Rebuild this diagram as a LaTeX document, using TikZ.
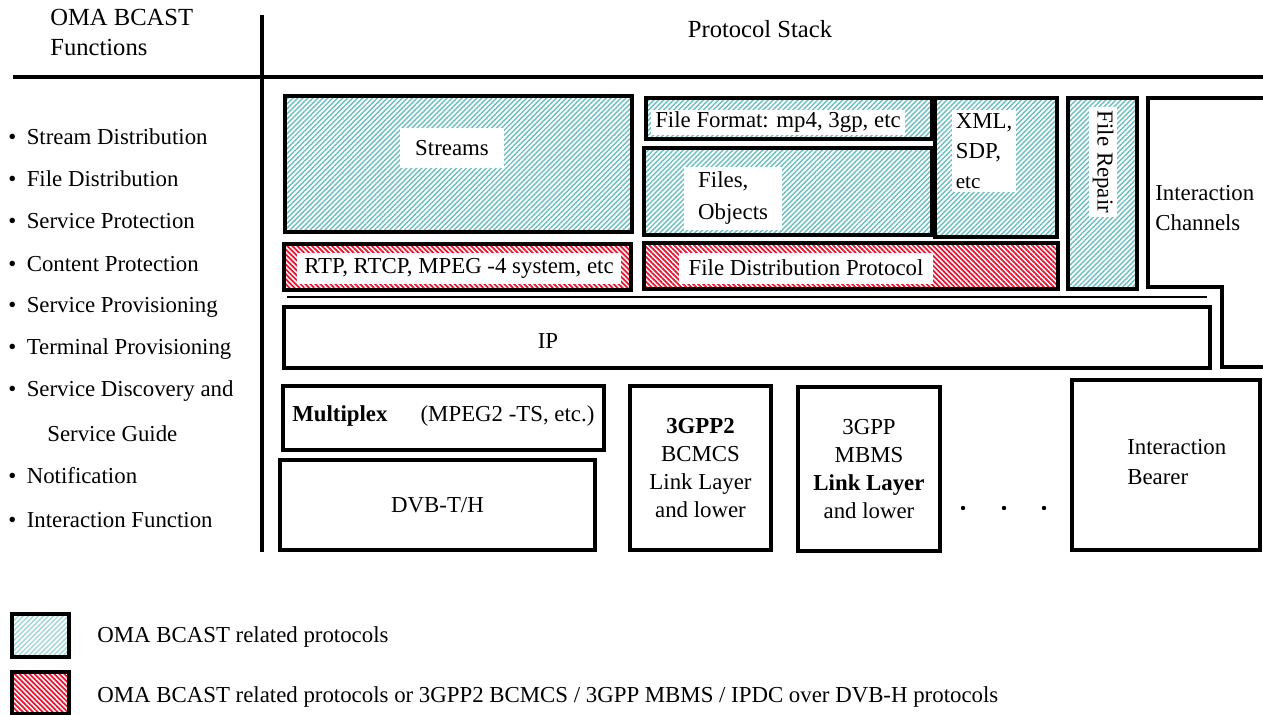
\documentclass[tikz,border=0pt]{standalone}
\usepackage{fontspec}
\setmainfont{Liberation Serif}
\usetikzlibrary{patterns.meta}
\definecolor{omacyan}{RGB}{105,192,192}
\definecolor{omapale}{RGB}{160,215,215}
\definecolor{mixred}{RGB}{232,20,50}
\begin{document}
\begin{tikzpicture}[x=0.02cm, y=-0.02cm, font=\fontsize{13}{15}\selectfont,
	layer/.style={draw, line width=2.6pt, inner sep=0pt, outer sep=0pt},
	oma/.style={layer, pattern={Lines[angle=45,distance=2pt,line width=.8pt]}, pattern color=omacyan},
	mix/.style={layer, pattern={Lines[angle=-45,distance=2pt,line width=1pt]}, pattern color=mixred},
	tag/.style={fill=white, inner sep=0pt},
	func/.style={anchor=west, inner sep=0pt}]
		\path[use as bounding box, fill=white] (0,0) rectangle (1263,714);
		% table frame
		\draw[line width=2.8pt] (262,15) -- (262,552);
		\draw[line width=2.8pt] (13,77) -- (1263,77);
		\node [anchor=north west, align=left, inner sep=0, font=\fontsize{14}{17}\selectfont] (head) at (50,9) {OMA BCAST\\Functions};
		\node [font=\fontsize{14}{17}\selectfont] (stack) at (760,29) {Protocol Stack};
		% functions
		\foreach \yy/\txt [count=\i] in {137/Stream Distribution, 179/File Distribution, 221/Service Protection,
			264/Content Protection, 307/Service Provisioning, 349/Terminal Provisioning,
			391/Service Discovery and, 476/Notification, 520/Interaction Function}
			\node [func] (fn\i) at (8,\yy) {\makebox[10.5pt][l]{\textbullet}\txt};
		\node [func] (fnsg) at (47,434) {Service Guide};
		% upper layers
		\node [oma, minimum width=6.94cm, minimum height=2.72cm] (streams) at (458.5,164) {};
		\node [tag, minimum width=2.1cm, minimum height=.8cm] (streamsT) at (452,148) {Streams};
		\node [mix, minimum width=6.94cm, minimum height=.92cm] (rtp) at (457.5,267) {};
		\node [tag, minimum width=6.5cm, minimum height=.62cm] (rtpT) at (459,268) {RTP, RTCP, MPEG -4 system, etc};
		\node [oma, minimum width=5.72cm, minimum height=.82cm] (fformat) at (789,118.5) {};
		\node [tag, minimum width=5.1cm, minimum height=.5cm] (fformatT) at (778,122) {File Format: mp4, 3gp, etc};
		\node [oma, minimum width=5.76cm, minimum height=1.74cm] (files) at (788,191.5) {};
		\node [tag, anchor=west, align=left, minimum width=1.95cm, minimum height=1.26cm, inner xsep=3pt] (filesT) at (684,198) {Files,\\[3pt]Objects};
		\node [oma, minimum width=2.44cm, minimum height=2.78cm] (xml) at (996,167.5) {};
		\node [tag, anchor=north west, align=left, inner sep=2pt] (xmlT) at (952,110) {XML,\\[2pt]SDP,\\[2pt]{\fontsize{12}{14}\selectfont etc}};
		\node [mix, minimum width=8.28cm, minimum height=.92cm] (fdp) at (851,266) {};
		\node [tag, minimum width=5.1cm, minimum height=.62cm] (fdpT) at (806,268) {File Distribution Protocol};
		\node [oma, minimum width=1.38cm, minimum height=3.82cm] (repair) at (1102.5,193.5) {};
		\node [tag, rotate=-90, inner sep=2pt] (repairT) at (1103,162) {File Repair};
		% interaction channels
		\draw[line width=2.6pt] (1270,98) -- (1148,98) -- (1148,287) -- (1222,287) -- (1222,367) -- (1270,367);
		\node [anchor=west, align=left, inner sep=0] (ichan) at (1155,208) {Interaction\\[2pt]Channels};
		\draw[line width=1.2pt] (287,297) -- (1207,297);
		% ip
		\node [layer, minimum width=18.52cm, minimum height=1.22cm] (ip) at (747,337.5) {};
		\node [inner sep=0] (ipT) at (548,341) {IP};
		% bearers
		\node [layer, minimum width=6.42cm, minimum height=1.28cm] (mux) at (443.5,418) {};
		\node [anchor=west, inner sep=0] (muxT) at (292,416) {\textbf{Multiplex}\hspace{1.45em}(MPEG2 -TS, etc.)};
		\node [layer, minimum width=6.3cm, minimum height=1.8cm] (dvb) at (437.5,505) {DVB-T/H};
		\node [layer, minimum width=2.82cm, minimum height=3.28cm, align=center] (bcmcs) at (700.5,468) {\textbf{3GPP2}\\[1pt]BCMCS\\[1pt]Link Layer\\[1pt]and lower};
		\node [layer, minimum width=2.84cm, minimum height=3.28cm, align=center] (mbms) at (869,469) {3GPP\\[1pt]MBMS\\[1pt]\textbf{Link Layer}\\[1pt]and lower};
		\foreach \xx in {963,1004,1044}
			\fill (\xx,508) circle (2.2);
		\node [layer, minimum width=3.76cm, minimum height=3.4cm] (bearer) at (1166,465) {};
		\node [anchor=west, align=left, inner sep=0] (bearerT) at (1127,462) {Interaction\\[2pt]Bearer};
		% legend
		\node [layer, minimum width=1.14cm, minimum height=.86cm, pattern={Lines[angle=45,distance=2pt,line width=.8pt]}, pattern color=omapale] (keyoma) at (40.5,635.5) {};
		\node [anchor=west, inner sep=0] (keyomaT) at (97,637) {OMA BCAST related protocols};
		\node [mix, minimum width=1.14cm, minimum height=.84cm] (keymix) at (40.5,693) {};
		\node [anchor=west, inner sep=0] (keymixT) at (97,697) {OMA BCAST related protocols or 3GPP2 BCMCS / 3GPP MBMS / IPDC over DVB-H protocols};
\end{tikzpicture}
\end{document}
